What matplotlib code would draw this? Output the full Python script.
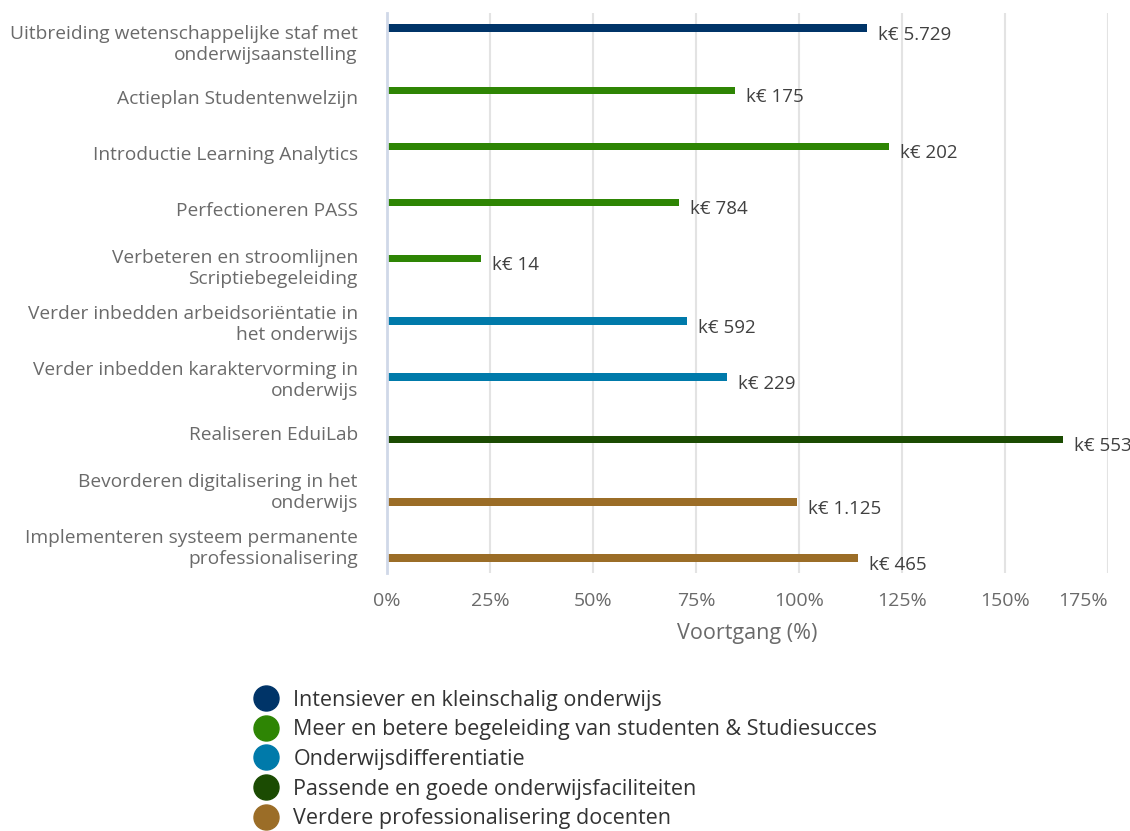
"""Voortgang onderwijsprojecten: horizontale staafgrafiek per thema."""

import matplotlib

matplotlib.use("Agg")
import matplotlib.pyplot as plt
import numpy as np
from matplotlib.lines import Line2D

plt.rcParams["font.family"] = ["Open Sans", "DejaVu Sans"]

projects = [
    "Uitbreiding wetenschappelijke staf met\nonderwijsaanstelling",
    "Actieplan Studentenwelzijn",
    "Introductie Learning Analytics",
    "Perfectioneren PASS",
    "Verbeteren en stroomlijnen\nScriptiebegeleiding",
    "Verder inbedden arbeidsoriëntatie in\nhet onderwijs",
    "Verder inbedden karaktervorming in\nonderwijs",
    "Realiseren EduiLab",
    "Bevorderen digitalisering in het\nonderwijs",
    "Implementeren systeem permanente\nprofessionalisering",
]
progress = [116.5, 84.5, 121.8, 70.9, 22.8, 72.8, 82.5, 164.0, 99.5, 114.3]
budget_k = [5729, 175, 202, 784, 14, 592, 229, 553, 1125, 465]
theme_idx = [0, 1, 1, 1, 1, 2, 2, 3, 4, 4]

themes = [
    "Intensiever en kleinschalig onderwijs",
    "Meer en betere begeleiding van studenten & Studiesucces",
    "Onderwijsdifferentiatie",
    "Passende en goede onderwijsfaciliteiten",
    "Verdere professionalisering docenten",
]
theme_colors = ["#003468", "#2e8504", "#007aaa", "#1b4b02", "#9b6d27"]

x_ticks = [0, 25, 50, 75, 100, 125, 150, 175]


def fmt_k(value: int) -> str:
    return "k€ " + f"{value:,}".replace(",", ".")


fig = plt.figure(figsize=(11.3, 8.31), dpi=100)
ax = fig.add_axes([0.3425, 0.3105, 0.638, 0.674])

n_themes = len(themes)
step = 0.116
height = 0.1375
y = np.arange(len(projects))

for i, (val, t) in enumerate(zip(progress, theme_idx)):
    offset = (t - (n_themes - 1) / 2) * step
    ax.barh(y[i] + offset, val, height=height, color=theme_colors[t], zorder=3)
    ax.annotate(
        fmt_k(budget_k[i]),
        xy=(val, y[i] + offset),
        xytext=(8, -5),
        textcoords="offset points",
        va="center",
        ha="left",
        fontsize=13.5,
        color="#404040",
    )

ax.set_ylim(len(projects) - 0.5, -0.5)
ax.set_xlim(0, 175)
ax.set_yticks(y)
ax.set_yticklabels(projects, fontsize=13.8, color="#6a6a6a", linespacing=1.25)
ax.set_xticks(x_ticks)
ax.set_xticklabels([f"{t}%" for t in x_ticks], fontsize=14, color="#6a6a6a")
ax.get_xticklabels()[-1].set_horizontalalignment("right")
ax.tick_params(axis="both", length=0)
ax.tick_params(axis="y", pad=21)
ax.tick_params(axis="x", pad=14)
ax.set_xlabel("Voortgang (%)", fontsize=15.5, color="#6a6a6a", labelpad=9)

ax.grid(axis="x", color="#e3e3e3", linewidth=1.5, zorder=0)
for side in ["top", "right", "bottom"]:
    ax.spines[side].set_visible(False)
ax.spines["left"].set_color("#d0d8e8")
ax.spines["left"].set_linewidth(2)
ax.spines["left"].set_zorder(4)

handles = [
    Line2D([], [], marker="o", linestyle="", markersize=18, color=c) for c in theme_colors
]
fig.legend(
    handles,
    themes,
    loc="upper left",
    bbox_to_anchor=(0.214, 0.183),
    frameon=False,
    fontsize=15.5,
    labelcolor="#333333",
    handletextpad=0.7,
    labelspacing=0.4,
    borderpad=0,
    handlelength=1.2,
)

fig.savefig("out.png", dpi=100)
